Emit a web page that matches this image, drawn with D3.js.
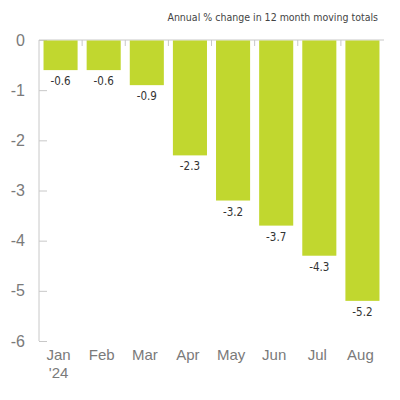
<!DOCTYPE html>
<html><head><meta charset="utf-8">
<script src="https://cdn.jsdelivr.net/npm/d3@7"></script>
<style>body{margin:0;background:#fff}svg{display:block}</style>
</head><body>
<svg id="c" width="400" height="400"></svg>
<script>
const months = ["Jan", "Feb", "Mar", "Apr", "May", "Jun", "Jul", "Aug"];
const subLabels = ["'24", "", "", "", "", "", "", ""];
const values = [-0.6, -0.6, -0.9, -2.3, -3.2, -3.7, -4.3, -5.2];
const yTicks = [0, -1, -2, -3, -4, -5, -6];
const title = "Annual % change in 12 month moving totals";

(function () {
const svg = d3.select("#c");
const mL = 39, mR = 384, mT = 40, mB = 341;
const x = d3.scaleBand().domain(months).range([mL, mR]).paddingInner(0.21).paddingOuter(0.105);
const y = d3.scaleLinear().domain([0, -6]).range([mT, mB]);
const grey = "#c8c8c8";
const narrow = "'Liberation Sans Narrow','DejaVu Sans Condensed',Arial,sans-serif";
const loc = d3.formatLocale({decimal: ".", thousands: ",", grouping: [3], currency: ["", ""], minus: "-"});

// y axis
const yAxis = d3.axisLeft(y).tickValues(yTicks).tickSize(-8).tickPadding(14).tickFormat(loc.format("d"));
const gy = svg.append("g").attr("transform", `translate(${mL},0)`).call(yAxis);
gy.select(".domain").attr("stroke", grey).attr("d", `M0,${mT}V${mB}`);
gy.selectAll(".tick line").attr("stroke", grey);
gy.selectAll(".tick text").attr("fill", "#7a7a7a").attr("font-size", 16)
  .attr("font-family", "'Liberation Sans',Arial,sans-serif").attr("font-weight", 300);

// top zero axis with separators
const sepTicks = d3.range(1, months.length).map(i => x.range()[0] + i * x.step());
svg.append("line").attr("x1", mL).attr("x2", mR).attr("y1", y(0)).attr("y2", y(0)).attr("stroke", grey);

// bars
svg.selectAll("rect.bar").data(values).join("rect").attr("class", "bar")
  .attr("x", (d, i) => x(months[i])).attr("width", x.bandwidth())
  .attr("y", y(0) + 0.5).attr("height", d => y(d) - y(0) - 0.5)
  .attr("fill", "#c1d72f");

svg.selectAll("line.sep").data(sepTicks).join("line").attr("class", "sep")
  .attr("x1", d => d).attr("x2", d => d).attr("y1", y(0)).attr("y2", y(0) + 6)
  .attr("stroke", grey);

// value labels
svg.selectAll("text.val").data(values).join("text").attr("class", "val")
  .attr("x", (d, i) => x(months[i]) + x.bandwidth() / 2)
  .attr("y", d => y(d) + 15)
  .attr("text-anchor", "middle").attr("font-size", 11.5).attr("fill", "#333")
  .attr("font-family", narrow)
  .text(d => loc.format(".1f")(d));

// x labels
svg.selectAll("text.xl").data(months).join("text").attr("class", "xl")
  .attr("x", d => x(d) + x.bandwidth() / 2 - 2)
  .attr("y", 360).attr("text-anchor", "middle").attr("font-size", 15)
  .attr("fill", "#7a7a7a").attr("font-family", "'Liberation Sans',Arial,sans-serif")
  .text(d => d);
svg.selectAll("text.xs").data(subLabels).join("text").attr("class", "xs")
  .attr("x", (d, i) => x(months[i]) + x.bandwidth() / 2 - 2)
  .attr("y", 378).attr("text-anchor", "middle").attr("font-size", 15)
  .attr("fill", "#7a7a7a").attr("font-family", "'Liberation Sans',Arial,sans-serif")
  .text(d => d);

// title
svg.append("text").attr("x", 378).attr("y", 21).attr("text-anchor", "end")
  .attr("font-size", 10.5).attr("fill", "#444").attr("font-family", narrow)
  .text(title);
})();
</script>
</body></html>
